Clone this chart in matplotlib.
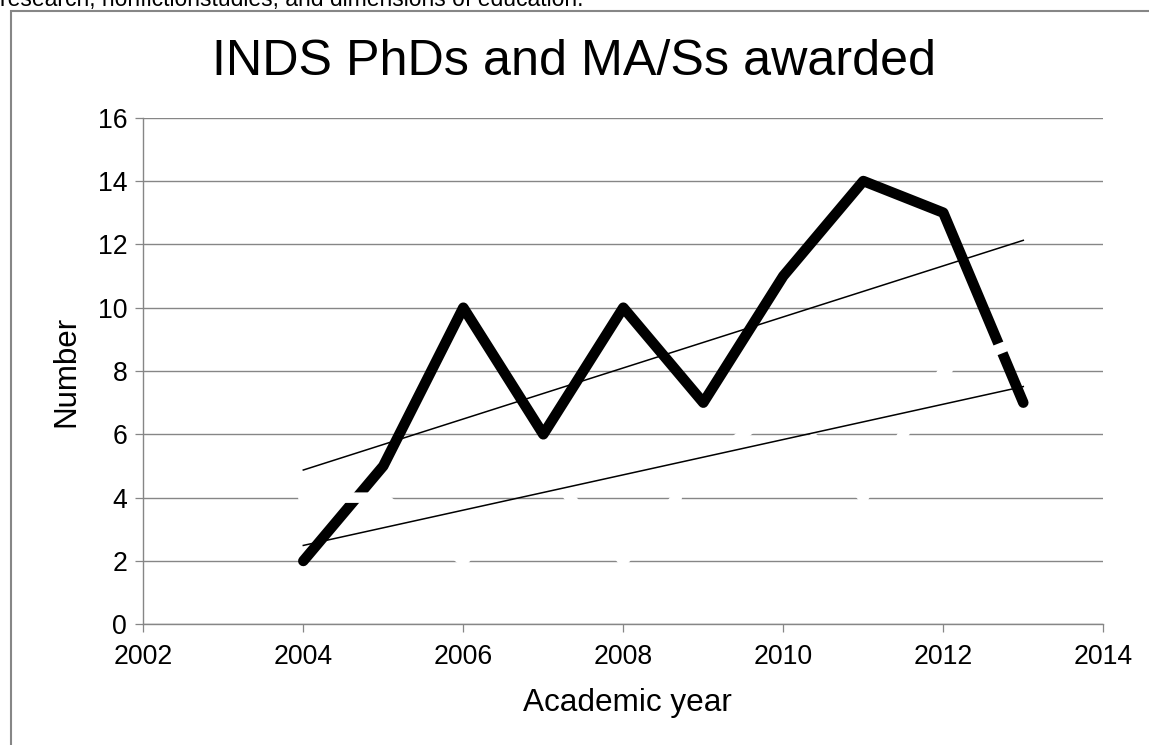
import numpy as np
import matplotlib
matplotlib.use("Agg")
import matplotlib.pyplot as plt
from matplotlib.patches import Rectangle

plt.rcParams['font.family'] = ['Liberation Sans', 'DejaVu Sans']

# ---- data ----
years = [2004, 2005, 2006, 2007, 2008, 2009, 2010, 2011, 2012, 2013]
total_awarded = [2, 5, 10, 6, 10, 7, 11, 14, 13, 7]      # black series
white_series = [4, 4, 2, 5, 2, 5, 7, 4, 8, 9]            # white dashed series
x_ticks = [2002, 2004, 2006, 2008, 2010, 2012, 2014]
y_ticks = [0, 2, 4, 6, 8, 10, 12, 14, 16]
title = "INDS PhDs and MA/Ss awarded"
x_label = "Academic year"
y_label = "Number"
top_text = "research, nonfictionstudies, and dimensions of education."

W, H = 1149, 745
fig = plt.figure(figsize=(W / 100, H / 100), dpi=100)
fig.patch.set_facecolor("white")

# chart area border
fig.add_artist(Rectangle((11 / W, -0.1), 2.0, (H - 11) / H + 0.1,
                         transform=fig.transFigure, fill=False,
                         edgecolor="#868686", lw=1.5))

ax = fig.add_axes([143.3 / W, (H - 624.3) / H, 960.0 / W, 506.6 / H])
gray = "#868686"

ax.set_xlim(2002, 2014)
ax.set_ylim(0, 16)
ax.set_xticks(x_ticks)
ax.set_yticks(y_ticks)
ax.set_xticklabels([str(t) for t in x_ticks])
ax.set_yticklabels([str(t) for t in y_ticks])

for s in ["top", "right"]:
    ax.spines[s].set_visible(False)
for s in ["left", "bottom"]:
    ax.spines[s].set_color(gray)
    ax.spines[s].set_linewidth(1.0)

ax.tick_params(axis="both", direction="out", length=5.8, width=0.9,
               color=gray, labelsize=19.2, labelcolor="black")
ax.tick_params(axis="x", pad=8.5)
ax.tick_params(axis="y", pad=5.8)

ax.yaxis.grid(True, color=gray, lw=1.0, zorder=0)
ax.set_axisbelow(True)

lw_px = 10.5
lw_pt = lw_px * 72 / 100

# black series
ax.plot(years, total_awarded, color="black", lw=lw_pt,
        solid_capstyle="round", solid_joinstyle="round", zorder=3)

# white dashed series
wl, = ax.plot(years, white_series, color="white", lw=lw_pt,
              dash_capstyle="round", dash_joinstyle="round", zorder=4)
wl.set_dashes((8.7, 4.7))

# linear trend lines
xa = np.array(years, dtype=float)
for series in (total_awarded, white_series):
    k, b = np.polyfit(xa, np.array(series, dtype=float), 1)
    ax.plot([xa[0], xa[-1]], [k * xa[0] + b, k * xa[-1] + b],
            color="black", lw=1.1, zorder=5)

# texts
fig.text(574 / W, (H - 75) / H, title, ha="center", va="baseline",
         fontsize=36.2, color="black")
fig.text(627 / W, (H - 711) / H, x_label, ha="center", va="baseline",
         fontsize=22.7, color="black")
fig.text(66 / W, (H - 371) / H, y_label, ha="center", va="center",
         rotation=90, fontsize=22.5, color="black")
fig.text(0 / W, (H - 6) / H, top_text, ha="left", va="baseline",
         fontsize=16.5, color="black")

fig.savefig("out.png", dpi=100, facecolor="white")
